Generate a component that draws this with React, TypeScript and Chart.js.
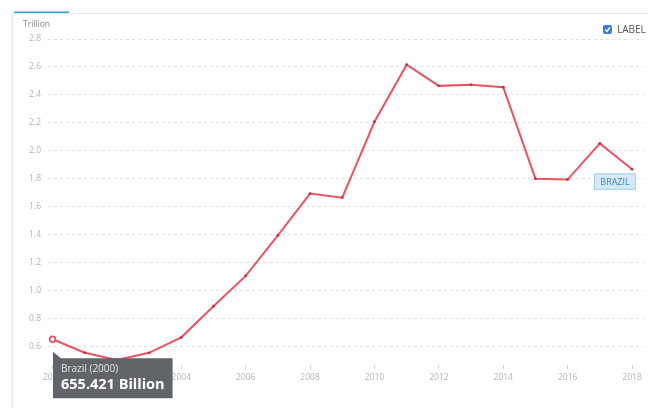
import React, { useEffect, useRef } from "react";
import { Chart, registerables } from "chart.js";

Chart.register(...registerables);

const years = [2000, 2001, 2002, 2003, 2004, 2005, 2006, 2007, 2008, 2009, 2010, 2011, 2012, 2013, 2014, 2015, 2016, 2017, 2018];
const gdpTrillion = [0.655421, 0.559372, 0.507963, 0.558233, 0.66929, 0.891634, 1.107627, 1.397114, 1.695855, 1.666996, 2.208838, 2.616202, 2.465189, 2.472807, 2.455994, 1.802214, 1.795693, 2.054, 1.869];
const xTickYears = [2000, 2002, 2004, 2006, 2008, 2010, 2012, 2014, 2016, 2018];
const yTickValues = [0.6, 0.8, 1.0, 1.2, 1.4, 1.6, 1.8, 2.0, 2.2, 2.4, 2.6, 2.8];
const countryName = "Brazil";
const unitLabel = "Trillion";
const hoverIndex = 0;

const FONT = "'Open Sans', 'DejaVu Sans', sans-serif";
const LINE = "rgb(233,84,100)";

const overlay = {
  id: "overlay",
  afterDraw(chart: any) {
    const ctx = chart.ctx as CanvasRenderingContext2D;
    const meta = chart.getDatasetMeta(0);
    ctx.save();
    // frame
    ctx.fillStyle = "#eceef0";
    ctx.fillRect(11, 13, 2.5, 408);
    ctx.fillStyle = "#e6e8eb";
    ctx.fillRect(13, 13, 648, 1);
    ctx.fillStyle = "#33a3dc";
    ctx.fillRect(14, 11.5, 55, 1.5);

    // unit label
    ctx.font = `8.5px ${FONT}`;
    ctx.fillStyle = "#888";
    ctx.textBaseline = "middle";
    ctx.textAlign = "left";
    ctx.fillText(unitLabel, 23, 25);

    // checkbox LABEL
    ctx.fillStyle = "#3b7fd9";
    ctx.beginPath();
    (ctx as any).roundRect(603, 25, 9, 9, 2);
    ctx.fill();
    ctx.strokeStyle = "#fff";
    ctx.lineWidth = 1.4;
    ctx.beginPath();
    ctx.moveTo(605.2, 29.6);
    ctx.lineTo(607, 31.5);
    ctx.lineTo(610, 27.3);
    ctx.stroke();
    ctx.font = `10px ${FONT}`;
    ctx.fillStyle = "#555";
    ctx.fillText("LABEL", 617, 30);

    // end label
    const last = meta.data[meta.data.length - 1];
    if (last) {
      const bw = 42, bh = 16.5;
      const bx = last.x + 4 - bw, by = last.y + 4;
      ctx.fillStyle = "#d3e9f6";
      ctx.fillRect(bx, by, bw, bh);
      ctx.strokeStyle = "#a5cfe8";
      ctx.lineWidth = 1;
      ctx.strokeRect(bx + 0.5, by + 0.5, bw - 1, bh - 1);
      ctx.font = `9px ${FONT}`;
      ctx.fillStyle = "#3a86b8";
      ctx.textAlign = "center";
      ctx.fillText(countryName.toUpperCase(), bx + bw / 2, by + bh / 2 + 0.5);
    }

    // hovered point + tooltip
    const p = meta.data[hoverIndex];
    if (p) {
      ctx.beginPath();
      ctx.arc(p.x, p.y, 2.8, 0, Math.PI * 2);
      ctx.fillStyle = "#fff";
      ctx.fill();
      ctx.strokeStyle = LINE;
      ctx.lineWidth = 1.8;
      ctx.stroke();

      const title = `${countryName} (${years[hoverIndex]})`;
      const body = `${(gdpTrillion[hoverIndex] * 1000).toFixed(3)} Billion`;
      ctx.font = `bold 14.5px ${FONT}`;
      const w = Math.max(ctx.measureText(body).width, 60) + 16;
      const left = p.x + 0.5;
      const top = p.y + 19;
      const h = 40;
      ctx.fillStyle = "rgba(92,96,101,0.97)";
      ctx.beginPath();
      ctx.moveTo(left, p.y + 12.5);
      ctx.lineTo(left + 8, top);
      ctx.lineTo(left + w, top);
      ctx.lineTo(left + w, top + h);
      ctx.lineTo(left, top + h);
      ctx.closePath();
      ctx.fill();
      ctx.textAlign = "left";
      ctx.textBaseline = "middle";
      ctx.font = `10px ${FONT}`;
      ctx.fillStyle = "#e2e4e6";
      ctx.fillText(title, left + 8, top + 10.5);
      ctx.font = `bold 14.5px ${FONT}`;
      ctx.fillStyle = "#fff";
      ctx.fillText(body, left + 8, top + 27);
    }
    ctx.restore();
  },
};

export default function App() {
  const ref = useRef<HTMLCanvasElement | null>(null);
  useEffect(() => {
    if (!ref.current) return;
    const chart = new Chart(ref.current, {
      type: "line",
      data: {
        datasets: [
          {
            label: countryName,
            data: years.map((y, i) => ({ x: y, y: gdpTrillion[i] })),
            borderColor: LINE,
            borderWidth: 2,
            pointRadius: 1.4,
            pointBackgroundColor: "#c9303f",
            pointBorderWidth: 0,
            tension: 0,
          },
        ],
      },
      options: {
        animation: false,
        responsive: false,
        events: [],
        layout: { padding: { left: 0, right: 3, top: 39, bottom: 0 } },
        plugins: { legend: { display: false }, tooltip: { enabled: false } },
        scales: {
          x: {
            type: "linear",
            min: 1999.86,
            max: 2018.372,
            afterBuildTicks: (axis: any) => {
              axis.ticks = xTickYears.map((v) => ({ value: v }));
            },
            afterFit: (axis: any) => {
              axis.height = 43;
            },
            grid: { display: true, drawOnChartArea: false, drawTicks: true, tickLength: 4, tickColor: "#d4d4d4", color: "#d4d4d4" },
            border: { display: false },
            ticks: {
              autoSkip: false,
              maxRotation: 0,
              padding: 3,
              color: "#b5b5b5",
              font: { family: FONT, size: 8.5 },
              callback: (v: any) => String(v),
            },
          },
          y: {
            type: "linear",
            min: 0.4714,
            max: 2.8,
            afterBuildTicks: (axis: any) => {
              axis.ticks = yTickValues.map((v) => ({ value: v }));
            },
            afterFit: (axis: any) => {
              axis.width = 48;
            },
            grid: { color: "#e2e2e2", drawTicks: false, lineWidth: 1 },
            border: { display: false, dash: [3, 3] },
            ticks: {
              padding: 7,
              color: "#b5b5b5",
              font: { family: FONT, size: 8.5 },
              callback: (v: any) => Number(v).toFixed(1),
            },
          },
        },
      },
      plugins: [overlay],
    });
    return () => chart.destroy();
  }, []);
  return (
    <div style={{ position: "absolute", left: 0, top: 0, width: 648, height: 408, background: "#fff" }}>
      <canvas ref={ref} width={648} height={408} style={{ display: "block" }} />
    </div>
  );
}
